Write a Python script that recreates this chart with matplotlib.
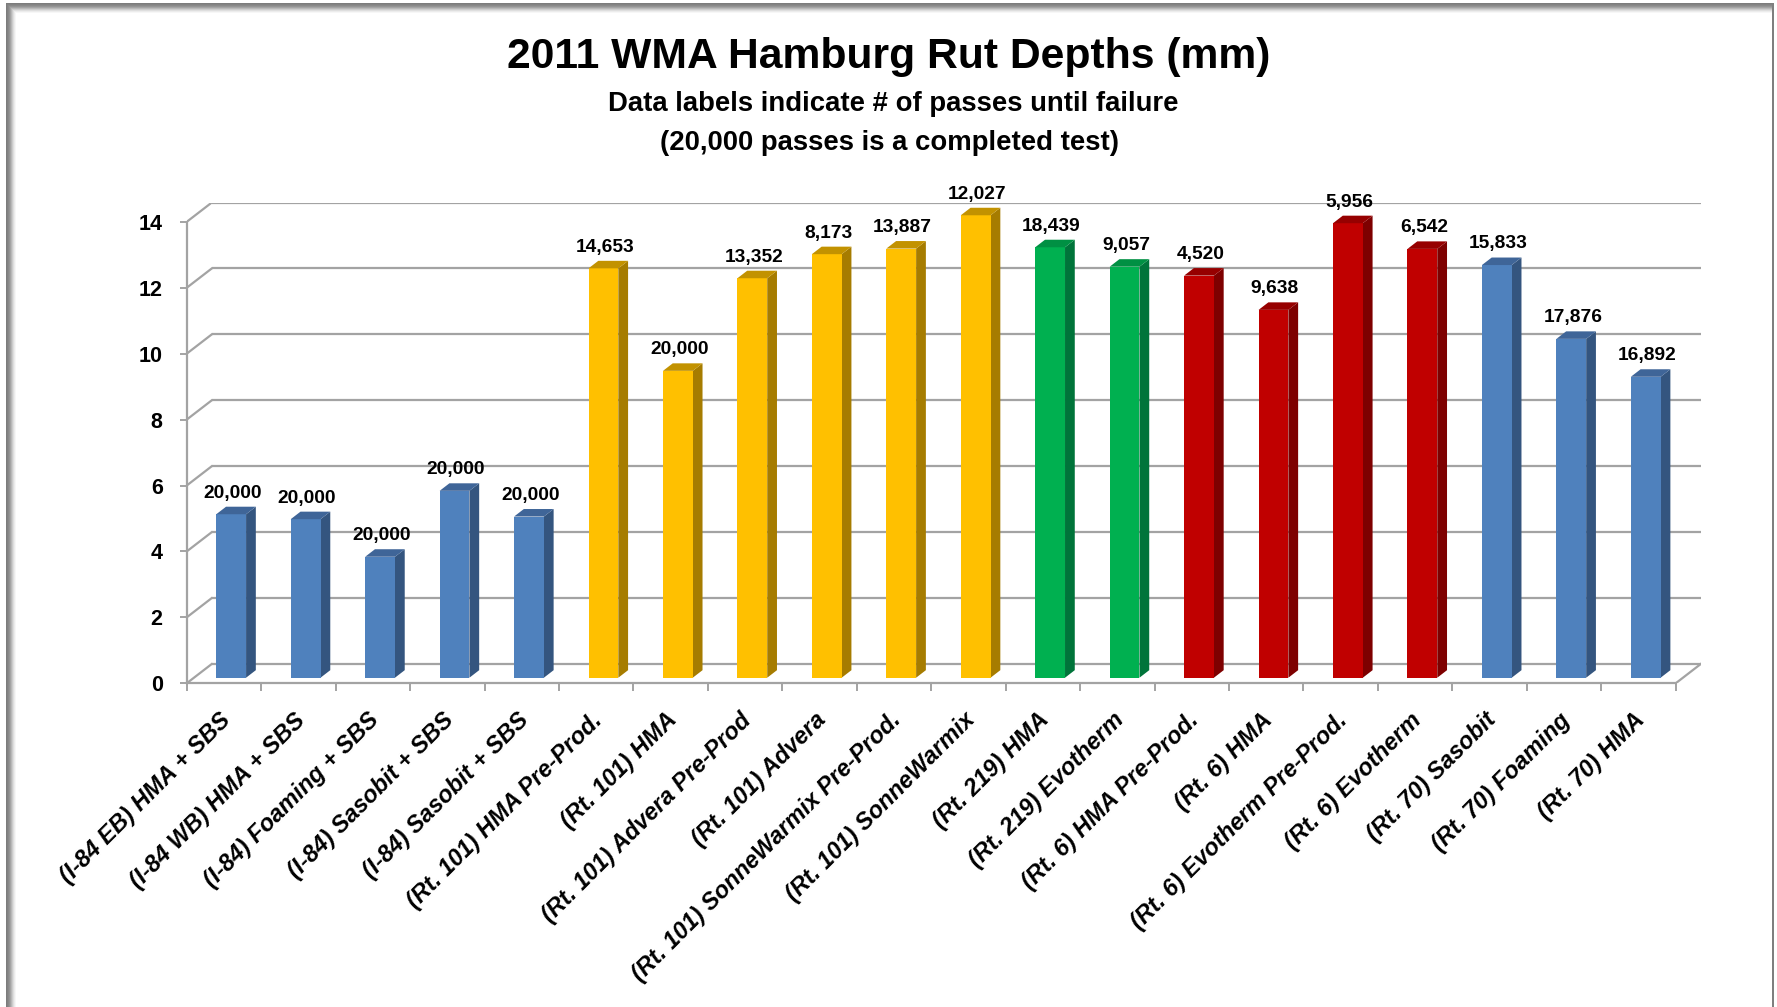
import matplotlib
matplotlib.use("Agg")
import matplotlib.pyplot as plt
from matplotlib.patches import Polygon, Rectangle
import numpy as np

plt.rcParams['font.family'] = ['Liberation Sans', 'DejaVu Sans']
plt.rcParams['font.weight'] = 'bold'

# ---------------- data ----------------
categories = [
    "(I-84 EB) HMA + SBS", "(I-84 WB) HMA + SBS", "(I-84) Foaming + SBS",
    "(I-84) Sasobit + SBS", "(I-84) Sasobit + SBS", "(Rt. 101) HMA Pre-Prod.",
    "(Rt. 101) HMA", "(Rt. 101) Advera Pre-Prod", "(Rt. 101) Advera",
    "(Rt. 101) SonneWarmix Pre-Prod.", "(Rt. 101) SonneWarmix", "(Rt. 219) HMA",
    "(Rt. 219) Evotherm", "(Rt. 6) HMA Pre-Prod.", "(Rt. 6) HMA",
    "(Rt. 6) Evotherm Pre-Prod.", "(Rt. 6) Evotherm", "(Rt. 70) Sasobit",
    "(Rt. 70) Foaming", "(Rt. 70) HMA",
]
rut_depth_mm = [4.96, 4.81, 3.67, 5.67, 4.89, 12.42, 9.31, 12.12, 12.85, 13.02,
                14.03, 13.06, 12.47, 12.20, 11.16, 13.79, 13.01, 12.52, 10.28, 9.13]
passes = [20000, 20000, 20000, 20000, 20000, 14653, 20000, 13352, 8173, 13887,
          12027, 18439, 9057, 4520, 9638, 5956, 6542, 15833, 17876, 16892]
groups = ["I-84"] * 5 + ["Rt. 101"] * 6 + ["Rt. 219"] * 2 + ["Rt. 6"] * 4 + ["Rt. 70"] * 3
y_ticks = [0, 2, 4, 6, 8, 10, 12, 14]

title = "2011 WMA Hamburg Rut Depths (mm)"
subtitle1 = "Data labels indicate # of passes until failure"
subtitle2 = "(20,000 passes is a completed test)"

# ---------------- style ----------------
# (front, side, top) colours per group
group_colors = {
    "I-84":    ("#4F81BD", "#34557F", "#3F6598"),
    "Rt. 101": ("#FFC000", "#A67C00", "#C29200"),
    "Rt. 219": ("#00B050", "#00743A", "#009043"),
    "Rt. 6":   ("#C00000", "#7E0000", "#960000"),
    "Rt. 70":  ("#4F81BD", "#34557F", "#3F6598"),
}
GRID = "#A3A3A3"
DX, DY = 0.336, 0.585      # depth of the 3-D box (category units, mm)
F_FRONT, F_BACK = 0.29, 0.68
BW = 0.40

W, H = 1777, 1007
fig = plt.figure(figsize=(W / 100, H / 100), dpi=100)
fig.patch.set_facecolor("white")

def px(x, y):
    return (x / W, 1 - y / H)

# ---- frame (grey bevelled border) ----
def band(x0, y0, x1, y1, c):
    fx0, fy0 = px(x0, y1)
    fx1, fy1 = px(x1, y0)
    fig.patches.append(Rectangle((fx0, fy0), fx1 - fx0, fy1 - fy0,
                                 transform=fig.transFigure, color=c, lw=0, zorder=-10))

shades = ["#7c7c7c", "#828282", "#898989", "#949494", "#a4a4a4", "#b8b8b8",
          "#cccccc", "#dedede", "#ececec", "#f7f7f7"]
for k, c in enumerate(shades):
    band(6 + k, 3 + k, 1773, H, c)
band(16, 13, 1771.5, H, "white")
band(1771.5, 3, 1774, H, "#7f7f7f")

# ---- titles ----
fig.text(0.5003, 1 - 57 / H, title, ha="center", va="center", fontsize=30.7, fontweight="bold")
fig.text(0.5025, 1 - 104 / H, subtitle1, ha="center", va="center", fontsize=19.8, fontweight="bold")
fig.text(0.5008, 1 - 143 / H, subtitle2, ha="center", va="center", fontsize=19.8, fontweight="bold")

# ---- axes ----
n = len(categories)
ax = fig.add_axes([186.7 / W, (H - 683.3) / H, (n + DX) * 74.45 / W, (14 + DY) * 32.96 / H])
ax.set_zorder(5)
ax.set_xlim(0, n + DX)
ax.set_ylim(0, y_ticks[-1] + DY)
ax.patch.set_alpha(0)
for s in ["top", "right"]:
    ax.spines[s].set_visible(False)
ax.spines["left"].set_bounds(0, y_ticks[-1])
ax.spines["bottom"].set_bounds(0, n)
for s in ["left", "bottom"]:
    ax.spines[s].set_color(GRID)
    ax.spines[s].set_linewidth(1.6)

# walls / gridlines
for k in y_ticks:
    ax.plot([DX, n + DX], [k + DY, k + DY], color=GRID, lw=1.6, zorder=1, solid_capstyle="butt")
    ax.plot([0, DX], [k, k + DY], color=GRID, lw=1.6, zorder=1)
ax.plot([n, n + DX], [0, DY], color=GRID, lw=1.6, zorder=1)

# y axis
ax.set_yticks(y_ticks)
ax.set_yticklabels([str(t) for t in y_ticks])
ax.tick_params(axis="y", length=5.3, width=1.4, color=GRID, pad=12, labelsize=15.5)

# x axis: boundary ticks + rotated category labels
ax.set_xticks(np.arange(0, n + 1))
ax.set_xticklabels([])
ax.set_xticks(np.arange(n) + 0.5 + 0.04, minor=True)
ax.set_xticklabels(categories, minor=True)
ax.tick_params(axis="x", which="major", length=6, width=1.4, color=GRID)
ax.tick_params(axis="x", which="minor", length=0, pad=24, labelsize=17)
for lab in ax.get_xticklabels(minor=True):
    lab.set_rotation(45)
    lab.set_ha("right")
    lab.set_va("center")
    lab.set_rotation_mode("anchor")
    lab.set_fontstyle("italic")
    lab.set_fontweight("bold")
for lab in ax.get_yticklabels():
    lab.set_fontweight("bold")

# bars (3-D look)
x_center = np.arange(n) + 0.5
fronts = [group_colors[g][0] for g in groups]
x_face = x_center + F_FRONT * DX
ax.bar(x_face, rut_depth_mm, width=BW, bottom=F_FRONT * DY, color=fronts, zorder=3)
ddx = (F_BACK - F_FRONT) * DX
ddy = (F_BACK - F_FRONT) * DY
for xc, v, g, p in zip(x_face, rut_depth_mm, groups, passes):
    _, side, top = group_colors[g]
    x0, x1 = xc - BW / 2, xc + BW / 2
    y0, y1 = F_FRONT * DY, v + F_FRONT * DY
    ax.add_patch(Polygon([(x1, y0), (x1 + ddx, y0 + ddy), (x1 + ddx, y1 + ddy), (x1, y1)],
                         closed=True, color=side, lw=0, zorder=2.9))
    ax.add_patch(Polygon([(x0, y1), (x1, y1), (x1 + ddx, y1 + ddy), (x0 + ddx, y1 + ddy)],
                         closed=True, color=top, lw=0, zorder=3.1))
    ax.annotate(f"{p:,}", xy=(xc + 0.02, y1), xytext=(0, 12), textcoords="offset points",
                ha="center", va="baseline", fontsize=13.8, fontweight="bold", zorder=5,
                annotation_clip=False)

fig.savefig("out.png", dpi=100)
